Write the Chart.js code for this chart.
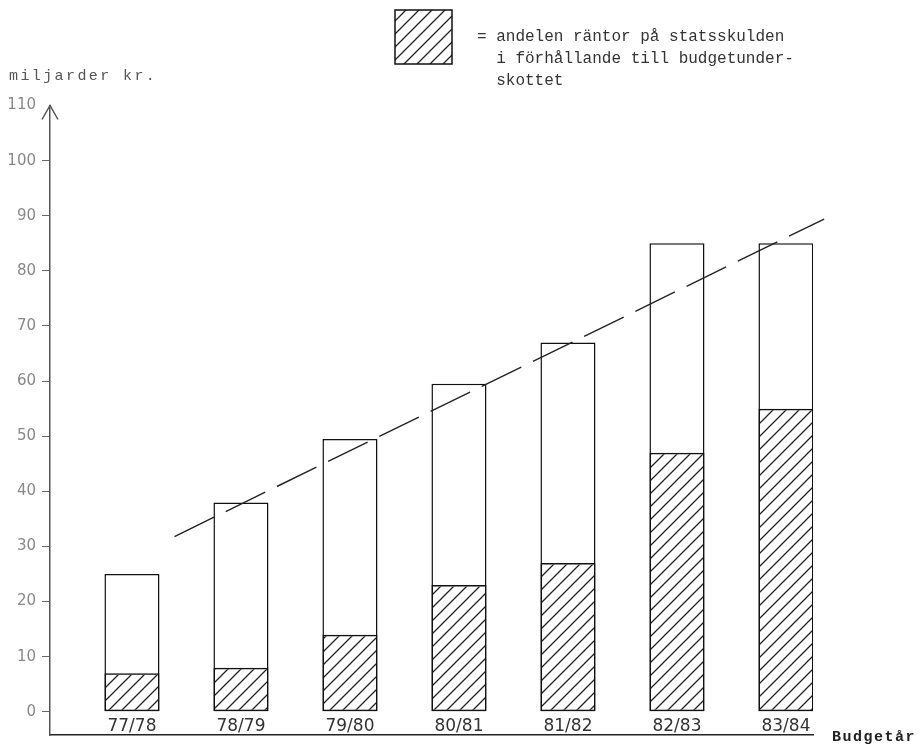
<!DOCTYPE html>
<html lang="sv">
<head>
<meta charset="utf-8">
<title>Budgetunderskott och räntor på statsskulden</title>
<script src="https://cdn.jsdelivr.net/npm/chart.js@4/dist/chart.umd.min.js"></script>
<style>
  html, body { margin: 0; padding: 0; background: #fff; }
  #wrap { width: 923px; height: 750px; position: relative; }
</style>
</head>
<body>
<div id="wrap"><canvas id="chart"></canvas></div>
<script>
// budgetår och värden (miljarder kr)
const categories = ["77/78", "78/79", "79/80", "80/81", "81/82", "82/83", "83/84"];
const totalDeficit = [25, 38, 49.5, 59.5, 67, 85, 85];
const interestShare = [7, 8, 14, 23, 27, 47, 55];
const trendX = [0.39, 6.35];
const trendY = [31.8, 89.4];
const yTicks = [0, 10, 20, 30, 40, 50, 60, 70, 80, 90, 100, 110];

const legendLines = [
  "= andelen räntor på statsskulden",
  "  i förhållande till budgetunder-",
  "  skottet"
];

function makeHatch() {
  const c = document.createElement("canvas");
  c.width = 13;
  c.height = 13;
  const g = c.getContext("2d");
  g.strokeStyle = "#222";
  g.lineWidth = 1.3;
  g.beginPath();
  g.moveTo(-2, 15); g.lineTo(15, -2);
  g.moveTo(-2, 2); g.lineTo(2, -2);
  g.moveTo(11, 15); g.lineTo(15, 11);
  g.stroke();
  return g.createPattern(c, "repeat");
}

const hatch = makeHatch();

// extra text, arrow and legend box
const decorations = {
  id: "decorations",
  afterDraw(chart) {
    const ctx = chart.ctx;
    const area = chart.chartArea;
    ctx.save();

    // arrow head on the y axis
    ctx.strokeStyle = "#555";
    ctx.lineWidth = 1.5;
    ctx.beginPath();
    ctx.moveTo(area.left - 8, area.top + 14);
    ctx.lineTo(area.left, area.top);
    ctx.lineTo(area.left + 8, area.top + 14);
    ctx.stroke();

    ctx.letterSpacing = "2.4px";
    ctx.fillStyle = "#555";
    ctx.font = "15px 'Liberation Mono', monospace";
    ctx.textBaseline = "middle";
    ctx.fillText("miljarder kr.", 9, 76);

    ctx.letterSpacing = "1.5px";
    ctx.fillStyle = "#222";
    ctx.font = "bold 15px 'Liberation Mono', monospace";
    ctx.fillText("Budgetår", 832, 737);

    // legend
    ctx.fillStyle = "#fff";
    ctx.fillRect(395, 10, 57, 54);
    ctx.fillStyle = hatch;
    ctx.fillRect(395, 10, 57, 54);
    ctx.strokeStyle = "#111";
    ctx.lineWidth = 1.5;
    ctx.strokeRect(395, 10, 57, 54);

    ctx.letterSpacing = "0px";
    ctx.fillStyle = "#333";
    ctx.font = "16px 'Liberation Mono', monospace";
    legendLines.forEach(function (line, i) {
      ctx.fillText(line, 477, 37 + i * 22);
    });
    ctx.restore();
  }
};

new Chart(document.getElementById("chart"), {
  type: "bar",
  data: {
    datasets: [
      {
        type: "line",
        label: "trend",
        data: trendX.map(function (x, i) { return { x: x, y: trendY[i] }; }),
        borderColor: "#222",
        borderWidth: 1.4,
        borderDash: [44, 13],
        pointRadius: 0,
        fill: false,
        clip: false,
        order: 0
      },
      {
        label: "räntor på statsskulden",
        data: categories.map(function (c, i) { return { x: i, y: interestShare[i] }; }),
        backgroundColor: hatch,
        borderColor: "#111",
        borderWidth: 1.5,
        borderSkipped: false,
        grouped: false,
        barPercentage: 0.505,
        categoryPercentage: 1,
        order: 1
      },
      {
        label: "budgetunderskott",
        data: categories.map(function (c, i) { return { x: i, y: totalDeficit[i] }; }),
        backgroundColor: "#fff",
        borderColor: "#111",
        borderWidth: 1.5,
        borderSkipped: false,
        grouped: false,
        barPercentage: 0.505,
        categoryPercentage: 1,
        order: 2
      }
    ]
  },
  options: {
    responsive: true,
    maintainAspectRatio: false,
    animation: false,
    layout: { padding: { left: 0, top: 105.5, right: 110, bottom: 0 } },
    plugins: {
      legend: { display: false },
      tooltip: { enabled: false }
    },
    scales: {
      x: {
        type: "linear",
        offset: false,
        min: -0.752,
        max: 6.248,
        grid: { display: false, offset: false },
        border: { display: true, color: "#222", width: 1.5 },
        afterBuildTicks: function (scale) {
          scale.ticks = categories.map(function (c, i) { return { value: i }; });
        },
        afterFit: function (scale) { scale.height = 10; },
        ticks: {
          mirror: true,
          padding: -2,
          color: "#333",
          font: { family: "'DejaVu Sans', sans-serif", size: 17 },
          callback: function (v) { return categories[v]; }
        }
      },
      y: {
        min: -4.2,
        max: 110,
        grid: {
          drawOnChartArea: false,
          drawTicks: true,
          tickLength: 8,
          color: function (c) { return c.tick && c.tick.value === 110 ? "rgba(0,0,0,0)" : "#666"; }
        },
        border: { display: true, color: "#555", width: 1.5 },
        afterBuildTicks: function (scale) {
          scale.ticks = yTicks.map(function (v) { return { value: v }; });
        },
        afterFit: function (scale) { scale.width = 50; },
        ticks: {
          padding: 6,
          color: "#888",
          font: { family: "'DejaVu Sans', sans-serif", size: 15 }
        }
      }
    }
  },
  plugins: [decorations]
});
</script>
</body>
</html>
